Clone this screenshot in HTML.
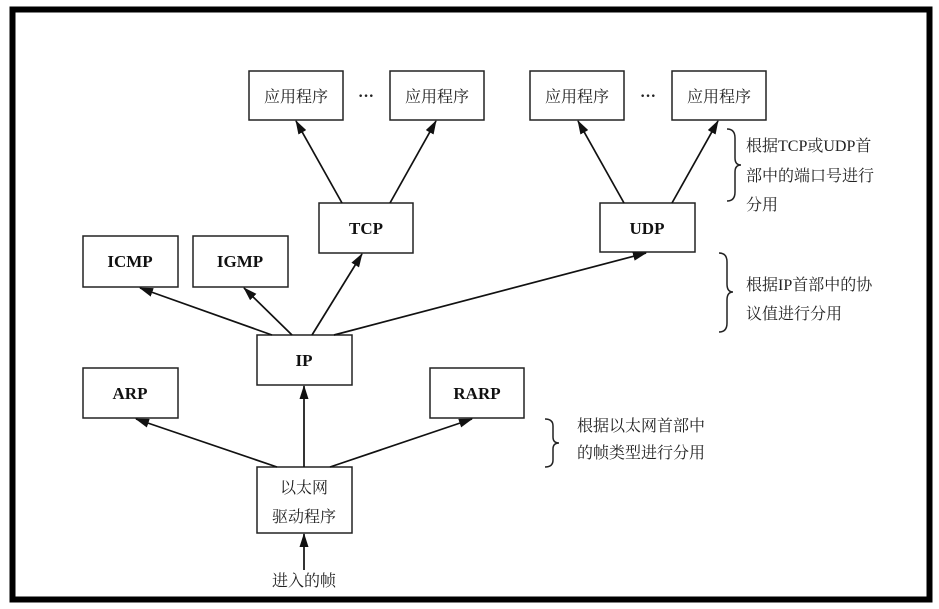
<!DOCTYPE html>
<html><head><meta charset="utf-8"><style>
html,body{margin:0;padding:0;background:#fff;}
svg{display:block;}
.b{fill:#fff;stroke:#222;stroke-width:1.5;}
.t{font-family:"Liberation Serif","Noto Serif CJK SC",serif;font-size:17px;font-weight:bold;fill:#111;text-anchor:middle;}
.c{font-family:"Liberation Serif","Noto Serif CJK SC",serif;font-size:16px;fill:#222;}
.l{stroke:#111;stroke-width:1.7;marker-end:url(#a);}
</style></head><body>
<svg width="939" height="609" viewBox="0 0 939 609">
<defs><marker id="a" markerWidth="14" markerHeight="9" refX="13" refY="4.5" orient="auto" markerUnits="userSpaceOnUse"><path d="M0,0 L14,4.5 L0,9 Z" fill="#111"/></marker></defs>
<rect x="0" y="0" width="939" height="609" fill="#fff"/>
<rect x="12.5" y="9.5" width="917" height="590" fill="none" stroke="#000" stroke-width="6"/>
<rect class="b" x="249" y="71" width="94" height="49"/><text class="c" x="296" y="102" text-anchor="middle">应用程序</text>
<rect class="b" x="390" y="71" width="94" height="49"/><text class="c" x="437" y="102" text-anchor="middle">应用程序</text>
<rect class="b" x="530" y="71" width="94" height="49"/><text class="c" x="577" y="102" text-anchor="middle">应用程序</text>
<rect class="b" x="672" y="71" width="94" height="49"/><text class="c" x="719" y="102" text-anchor="middle">应用程序</text>
<text class="c" x="366" y="101" text-anchor="middle" font-weight="bold">···</text>
<text class="c" x="648" y="101" text-anchor="middle" font-weight="bold">···</text>
<rect class="b" x="319" y="203" width="94" height="50"/><text class="t" x="366" y="234">TCP</text>
<rect class="b" x="600" y="203" width="95" height="49"/><text class="t" x="647" y="234">UDP</text>
<rect class="b" x="83" y="236" width="95" height="51"/><text class="t" x="130" y="267">ICMP</text>
<rect class="b" x="193" y="236" width="95" height="51"/><text class="t" x="240" y="267">IGMP</text>
<rect class="b" x="257" y="335" width="95" height="50"/><text class="t" x="304" y="366">IP</text>
<rect class="b" x="83" y="368" width="95" height="50"/><text class="t" x="130" y="399">ARP</text>
<rect class="b" x="430" y="368" width="94" height="50"/><text class="t" x="477" y="399">RARP</text>
<rect class="b" x="257" y="467" width="95" height="66"/>
<text class="c" x="304" y="493" text-anchor="middle">以太网</text>
<text class="c" x="304" y="522" text-anchor="middle">驱动程序</text>
<text class="c" x="304" y="586" text-anchor="middle">进入的帧</text>
<line class="l" x1="342" y1="203" x2="296" y2="121"/>
<line class="l" x1="390" y1="203" x2="436" y2="121"/>
<line class="l" x1="624" y1="203" x2="578" y2="121"/>
<line class="l" x1="672" y1="203" x2="718" y2="121"/>
<line class="l" x1="272" y1="335" x2="140" y2="288"/>
<line class="l" x1="292" y1="335" x2="244" y2="288"/>
<line class="l" x1="312" y1="335" x2="362" y2="254"/>
<line class="l" x1="334" y1="335" x2="646" y2="253"/>
<line class="l" x1="277" y1="467" x2="136" y2="419"/>
<line class="l" x1="304" y1="467" x2="304" y2="386"/>
<line class="l" x1="330" y1="467" x2="472" y2="419"/>
<line class="l" x1="304" y1="570" x2="304" y2="534"/>
<path d="M727,129 Q735,129 735,138 L735,158 Q735,165 741,165 Q735,165 735,172 L735,192 Q735,201 727,201" fill="none" stroke="#222" stroke-width="1.5"/>
<path d="M719,253 Q727,253 727,262 L727,284 Q727,292 733,292 Q727,292 727,300 L727,323 Q727,332 719,332" fill="none" stroke="#222" stroke-width="1.5"/>
<path d="M545,419 Q553,419 553,426 L553,437 Q553,443 559,443 Q553,443 553,449 L553,460 Q553,467 545,467" fill="none" stroke="#222" stroke-width="1.5"/>
<text class="c" x="746" y="151">根据TCP或UDP首</text>
<text class="c" x="746" y="181">部中的端口号进行</text>
<text class="c" x="746" y="210">分用</text>
<text class="c" x="746" y="290">根据IP首部中的协</text>
<text class="c" x="746" y="319">议值进行分用</text>
<text class="c" x="577" y="431">根据以太网首部中</text>
<text class="c" x="577" y="458">的帧类型进行分用</text>
</svg>
</body></html>
